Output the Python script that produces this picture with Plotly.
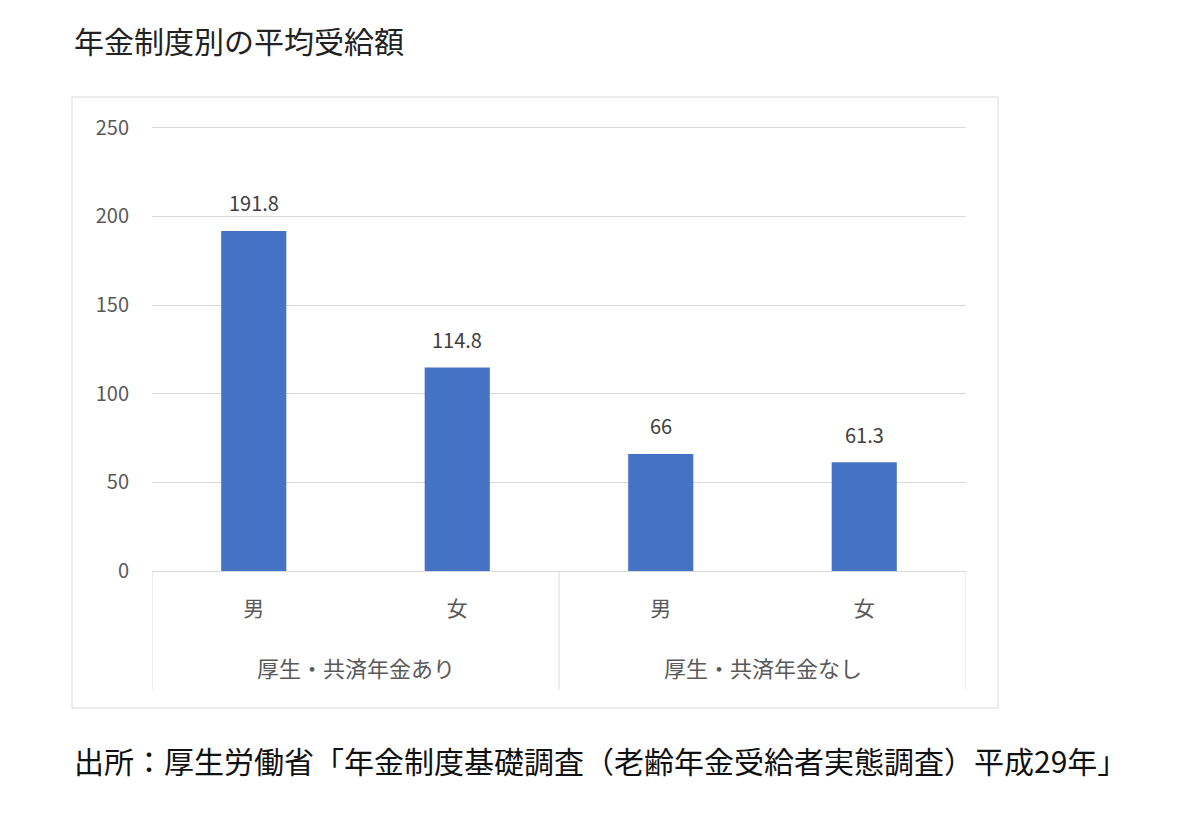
import plotly.graph_objects as go

groups = ["厚生・共済年金あり", "厚生・共済年金あり", "厚生・共済年金なし", "厚生・共済年金なし"]
sexes = ["男", "女", "男", "女"]
values = [191.8, 114.8, 66, 61.3]
value_labels = ["191.8", "114.8", "66", "61.3"]
y_ticks = [0, 50, 100, 150, 200, 250]

title_text = "年金制度別の平均受給額"
source_text = "出所：厚生労働省「年金制度基礎調査（老齢年金受給者実態調査）平成29年」"

FONT = "Noto Sans CJK JP"
GRID = "#d9d9d9"
TXT = "#595959"
L, R, T, B = 152, 234, 126, 256
PW, PH = 1200 - L - R, 827 - T - B

def px(x):
    return (x - L) / PW

def py(y):
    return (827 - B - y) / PH

cat_keys = [f"{g}/{s}" for g, s in zip(groups, sexes)]

fig = go.Figure()
fig.add_trace(go.Bar(
    x=cat_keys, y=values,
    marker=dict(color="#4472C4", line=dict(width=0)),
    hoverinfo="x+y",
))

# value labels above bars
for k, v, lab in zip(cat_keys, values, value_labels):
    fig.add_annotation(x=k, y=v, xref="x", yref="y", text=lab, showarrow=False,
                       yanchor="middle", yshift=28,
                       font=dict(family=FONT, size=20, color="#404040"))

# group labels and dividers
uniq = []
for g in groups:
    if g not in uniq:
        uniq.append(g)
bounds = [-0.5]
for g in uniq:
    idx = [i for i, gg in enumerate(groups) if gg == g]
    center = sum(idx) / len(idx)
    fig.add_annotation(x=center, y=py(667), xref="x", yref="paper", text=g,
                       showarrow=False, yanchor="middle",
                       font=dict(family=FONT, size=22, color=TXT))
    bounds.append(max(idx) + 0.5)
for bx in bounds:
    fig.add_shape(type="line", xref="x", yref="paper", x0=bx, x1=bx,
                  y0=py(571), y1=py(690), line=dict(color=GRID, width=1))

fig.update_layout(
    width=1200, height=827,
    margin=dict(l=L, r=R, t=T, b=B, autoexpand=False),
    paper_bgcolor="white", plot_bgcolor="white",
    bargap=0.68,
    showlegend=False,
    font=dict(family=FONT, color=TXT),
    xaxis=dict(
        type="category",
        tickvals=cat_keys, ticktext=sexes,
        showline=True, linecolor=GRID, linewidth=1,
        showgrid=False, ticks="",
        tickfont=dict(family=FONT, size=21, color=TXT),
        ticklabelstandoff=19,
        range=[-0.5, len(cat_keys) - 0.5],
    ),
    yaxis=dict(
        range=[0, 251], tickvals=y_ticks,
        showgrid=True, gridcolor=GRID, gridwidth=1,
        zeroline=False, showline=False, ticks="",
        tickfont=dict(family=FONT, size=20, color=TXT),
        ticklabelstandoff=22,
    ),
)

fig.add_shape(type="rect", xref="paper", yref="paper",
              x0=px(72), x1=px(998), y0=py(708), y1=py(97),
              line=dict(color=GRID, width=1), fillcolor="rgba(0,0,0,0)", layer="below")

fig.add_annotation(text=title_text, xref="paper", yref="paper",
                   x=px(72), y=py(40), xanchor="left", yanchor="middle",
                   showarrow=False, font=dict(family=FONT, size=30, color="#222222"))
fig.add_annotation(text=source_text, xref="paper", yref="paper",
                   x=px(72), y=py(760), xanchor="left", yanchor="middle",
                   showarrow=False, font=dict(family=FONT, size=30, color="#111111"))

fig.write_html("out.html")
